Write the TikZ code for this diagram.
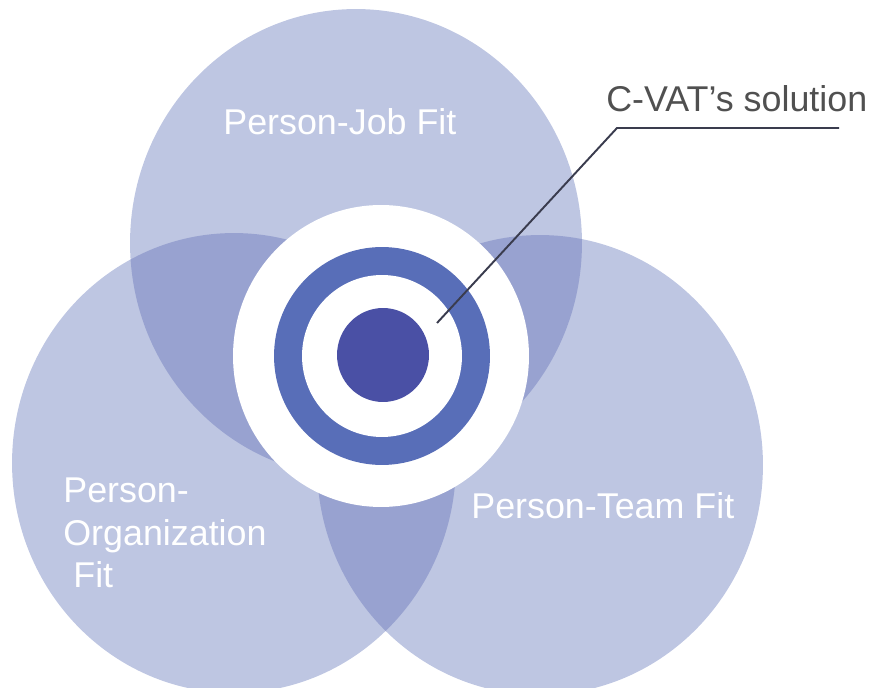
\documentclass[tikz,border=0pt]{standalone}
\usepackage{fontspec}
\setmainfont{Liberation Sans}
\definecolor{lightc}{RGB}{190,198,226}
\definecolor{overc}{RGB}{152,162,208}
\definecolor{ringc}{RGB}{88,110,184}
\definecolor{dotc}{RGB}{74,80,165}
\definecolor{linec}{RGB}{58,60,78}
\definecolor{textg}{RGB}{80,80,80}
\begin{document}
\begin{tikzpicture}[x=0.02cm,y=-0.02cm,
  lbl/.style={anchor=base west,inner sep=0pt,text=white,font=\fontsize{20.4pt}{24.4pt}\selectfont,align=left},
  callout/.style={anchor=base west,inner sep=0pt,text=textg,font=\fontsize{20.4pt}{24.4pt}\selectfont},
  leader/.style={draw=linec,line width=1.1pt}]
\useasboundingbox (0,0) rectangle (871,688);
\clip (0,0) rectangle (871,688);
\def\topE{(356,243) ellipse [x radius=4.52cm, y radius=4.68cm]}
\def\leftE{(234,463) ellipse [x radius=4.44cm, y radius=4.6cm]}
\def\rightE{(540,465) ellipse [x radius=4.46cm, y radius=4.6cm]}
% circles
\fill[lightc] \topE;
\fill[lightc] \leftE;
\fill[lightc] \rightE;
% pairwise overlaps
\begin{scope}\clip \topE; \fill[overc] \leftE; \end{scope}
\begin{scope}\clip \topE; \fill[overc] \rightE; \end{scope}
\begin{scope}\clip \leftE; \fill[overc] \rightE; \end{scope}
% target
\fill[white] (381,356) ellipse [x radius=2.96cm, y radius=3.02cm];
\fill[ringc] (382,356) ellipse [x radius=2.16cm, y radius=2.18cm];
\fill[white] (382,356) ellipse [x radius=1.6cm, y radius=1.62cm];
\fill[dotc] (383,355) ellipse [x radius=0.92cm, y radius=0.94cm];
% labels
\node[lbl] (pj) at (223,135) {Person-Job Fit};
\node[lbl] (pt) at (471,518) {Person-Team Fit};
\node[lbl] (po1) at (63,502) {Person-};
\node[lbl] (po2) at (63,545) {Organization};
\node[lbl] (po3) at (73,587) {Fit};
\node[callout] (cv) at (606,112) {C-VAT’s solution};
% leader line
\coordinate (tip) at (437,323);
\coordinate (elbow) at (617,128);
\coordinate (lend) at (839,128);
\draw[leader] (tip) -- (elbow) -- (lend);
\end{tikzpicture}
\end{document}
